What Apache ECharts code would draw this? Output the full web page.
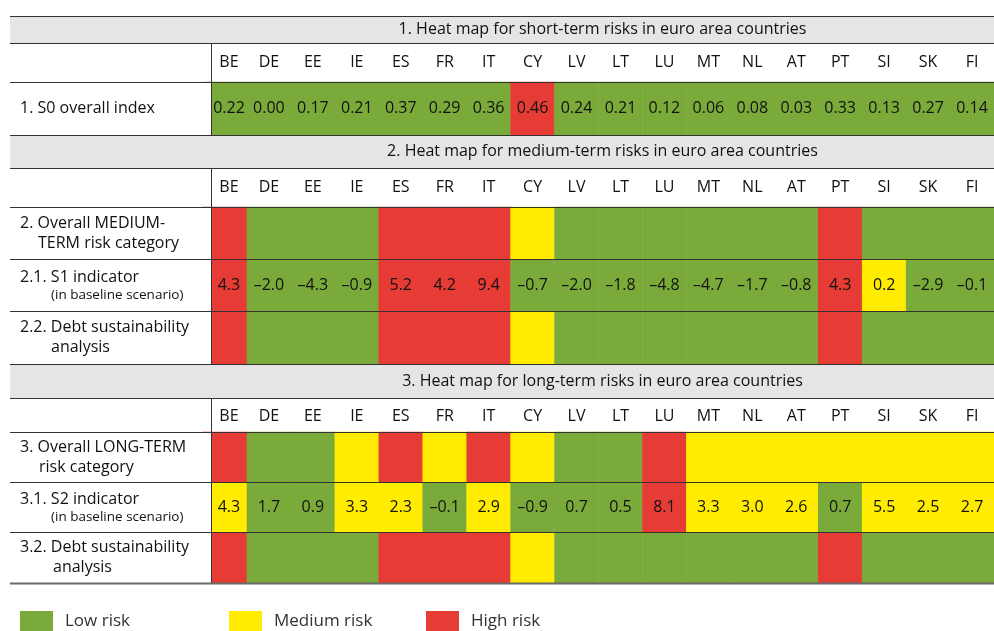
<!DOCTYPE html>
<html>
<head>
<meta charset="utf-8">
<script src="https://cdn.jsdelivr.net/npm/echarts@6/dist/echarts.min.js"></script>
<style>
  html, body { margin: 0; padding: 0; background: #fff; }
  #chart { width: 994px; height: 631px; }
</style>
</head>
<body>
<div id="chart"></div>
<script>
var dom = document.getElementById('chart');
var myChart = echarts.init(dom, null, { renderer: 'canvas' });

// data (0 = low, 1 = medium, 2 = high risk)
const countries = ['BE', 'DE', 'EE', 'IE', 'ES', 'FR', 'IT', 'CY', 'LV', 'LT', 'LU', 'MT', 'NL', 'AT', 'PT', 'SI', 'SK', 'FI'];
const sectionTitles = [
  '1. Heat map for short-term risks in euro area countries',
  '2. Heat map for medium-term risks in euro area countries',
  '3. Heat map for long-term risks in euro area countries'
];
const riskLabels = ['Low risk', 'Medium risk', 'High risk'];

const s0Index = [0.22, 0.00, 0.17, 0.21, 0.37, 0.29, 0.36, 0.46, 0.24, 0.21, 0.12, 0.06, 0.08, 0.03, 0.33, 0.13, 0.27, 0.14];
const s0Risk = [0, 0, 0, 0, 0, 0, 0, 2, 0, 0, 0, 0, 0, 0, 0, 0, 0, 0];

const mediumOverallRisk = [2, 0, 0, 0, 2, 2, 2, 1, 0, 0, 0, 0, 0, 0, 2, 0, 0, 0];
const s1Indicator = [4.3, -2.0, -4.3, -0.9, 5.2, 4.2, 9.4, -0.7, -2.0, -1.8, -4.8, -4.7, -1.7, -0.8, 4.3, 0.2, -2.9, -0.1];
const s1Risk = [2, 0, 0, 0, 2, 2, 2, 0, 0, 0, 0, 0, 0, 0, 2, 1, 0, 0];
const mediumDsaRisk = [2, 0, 0, 0, 2, 2, 2, 1, 0, 0, 0, 0, 0, 0, 2, 0, 0, 0];

const longOverallRisk = [2, 0, 0, 1, 2, 1, 2, 1, 0, 0, 2, 1, 1, 1, 1, 1, 1, 1];
const s2Indicator = [4.3, 1.7, 0.9, 3.3, 2.3, -0.1, 2.9, -0.9, 0.7, 0.5, 8.1, 3.3, 3.0, 2.6, 0.7, 5.5, 2.5, 2.7];
const s2Risk = [1, 0, 0, 1, 1, 0, 1, 0, 0, 0, 2, 1, 1, 1, 0, 1, 1, 1];
const longDsaRisk = [2, 0, 0, 0, 2, 2, 2, 1, 0, 0, 0, 0, 0, 0, 2, 0, 0, 0];

const blocks = [
  [
    { label: '{a|1. S0 overall index}', risk: s0Risk, values: s0Index, decimals: 2 }
  ],
  [
    { label: '{a|2. Overall MEDIUM-}\n{i1|TERM risk category}', risk: mediumOverallRisk },
    { label: '{a|2.1. S1 indicator}\n{s|(in baseline scenario)}', risk: s1Risk, values: s1Indicator, decimals: 1 },
    { label: '{a|2.2. Debt sustainability}\n{i2|analysis}', risk: mediumDsaRisk }
  ],
  [
    { label: '{a|3. Overall LONG-TERM}\n{i3|risk category}', risk: longOverallRisk },
    { label: '{a|3.1. S2 indicator}\n{s|(in baseline scenario)}', risk: s2Risk, values: s2Indicator, decimals: 1 },
    { label: '{a|3.2. Debt sustainability}\n{i4|analysis}', risk: longDsaRisk }
  ]
];

const colors = ['#7aab3a', '#ffec00', '#e63c35'];
const font = '"Open Sans", sans-serif';
const lineColor = '#333';
const textColor = '#111';

// table layout
const tableLeft = 10, tableRight = 994, splitX = 211, gridLeft = 203;
const bands = [[16, 43], [135, 168], [364, 398]];      // grey title bands
const gridBox = [[82, 135], [207, 364], [432, 583]];    // coloured cells
const headMargin = [12, 12, 8];

function fmt(v, d) {
  return v.toFixed(d).replace('-', '\u2013');
}

function rowStyle(indent) {
  return { fontSize: 16, lineHeight: 20, color: textColor, fontFamily: font, padding: [0, 0, 0, indent] };
}
const rich = {
  a: rowStyle(0),
  s: { fontSize: 13.5, lineHeight: 17, color: textColor, fontFamily: font, padding: [0, 0, 0, 31] },
  i1: rowStyle(18),
  i2: rowStyle(31),
  i3: rowStyle(19),
  i4: rowStyle(33)
};

const grids = [], xAxes = [], yAxes = [], series = [];
blocks.forEach(function (rows, b) {
  grids.push({ left: gridLeft, right: 0, top: gridBox[b][0], height: gridBox[b][1] - gridBox[b][0] });
  xAxes.push({
    type: 'category', gridIndex: b, position: 'top', data: countries,
    axisLine: { show: false }, axisTick: { show: false }, splitLine: { show: false },
    axisLabel: {
      margin: headMargin[b], fontSize: 16, color: textColor, fontFamily: font, interval: 0,
      formatter: function (v, i) { return i === 0 ? '{be|' + v + '}' : v; },
      rich: { be: { fontSize: 16, color: textColor, fontFamily: font, padding: [0, 0, 0, 8] } }
    }
  });
  yAxes.push({
    type: 'category', gridIndex: b, inverse: true, offset: -(splitX - gridLeft), z: 4,
    data: rows.map(function (r) { return r.label; }),
    axisLine: { show: true, lineStyle: { color: lineColor, width: 1 } },
    axisTick: { show: true, length: splitX - tableLeft, lineStyle: { color: lineColor, width: 1 } },
    splitLine: { show: true, lineStyle: { color: lineColor, width: 1 } },
    axisLabel: { align: 'left', margin: splitX - 20, rich: rich, interval: 0 }
  });
  const data = [];
  rows.forEach(function (row, r) {
    row.risk.forEach(function (risk, c) {
      const item = { value: [c, r, risk] };
      if (c === 0) item.label = { offset: [4, 0] };
      data.push(item);
    });
  });
  series.push({
    type: 'heatmap', xAxisIndex: b, yAxisIndex: b, data: data, z: 2,
    emphasis: { disabled: true },
    label: {
      show: true, fontSize: 16, color: textColor, fontFamily: font,
      formatter: function (p) {
        const row = rows[p.value[1]];
        return row.values ? fmt(row.values[p.value[0]], row.decimals) : '';
      }
    }
  });
});

function hline(y, color, width, z) {
  return { type: 'line', z: z || 5, shape: { x1: tableLeft, y1: y, x2: tableRight, y2: y },
    style: { stroke: color || lineColor, lineWidth: width || 1 } };
}
function vline(x, y1, y2) {
  return { type: 'line', z: 5, shape: { x1: x, y1: y1, x2: x, y2: y2 },
    style: { stroke: lineColor, lineWidth: 1 } };
}

const graphics = [];
bands.forEach(function (band, b) {
  graphics.push({ type: 'rect', z: 1, shape: { x: tableLeft, y: band[0], width: tableRight - tableLeft, height: band[1] - band[0] },
    style: { fill: '#e5e5e5' } });
  graphics.push({ type: 'text', z: 6, x: (splitX + tableRight) / 2, y: (band[0] + band[1]) / 2,
    style: { text: sectionTitles[b], font: '16px ' + font, fill: textColor, align: 'center', verticalAlign: 'middle' } });
  graphics.push(hline(band[0] + 0.5));
  graphics.push(hline(band[1] + 0.5));
  // vertical divider in the header row
  graphics.push(vline(splitX + 0.5, band[1], gridBox[b][0]));
  // hide the part of the first column under the label column
  graphics.push({ type: 'rect', z: 3, shape: { x: gridLeft - 2, y: gridBox[b][0], width: splitX - gridLeft + 2, height: gridBox[b][1] - gridBox[b][0] },
    style: { fill: '#fff' } });
});
graphics.push(hline(583.5, '#6b6b6b', 2, 7));

// legend
const legendX = [20, 229, 426];
riskLabels.forEach(function (name, i) {
  graphics.push({ type: 'rect', z: 5, shape: { x: legendX[i], y: 611, width: 33, height: 21 }, style: { fill: colors[i] } });
  graphics.push({ type: 'text', z: 5, x: legendX[i] + 45, y: 621,
    style: { text: name, font: '17px ' + font, fill: '#333', verticalAlign: 'middle' } });
});

var option = {
  animation: false,
  grid: grids,
  xAxis: xAxes,
  yAxis: yAxes,
  visualMap: {
    type: 'piecewise', show: false, dimension: 2, seriesIndex: [0, 1, 2],
    pieces: riskLabels.map(function (name, i) { return { value: i, label: name, color: colors[i] }; })
  },
  graphic: graphics,
  series: series
};

myChart.setOption(option);
window.addEventListener('resize', myChart.resize);
</script>
</body>
</html>
